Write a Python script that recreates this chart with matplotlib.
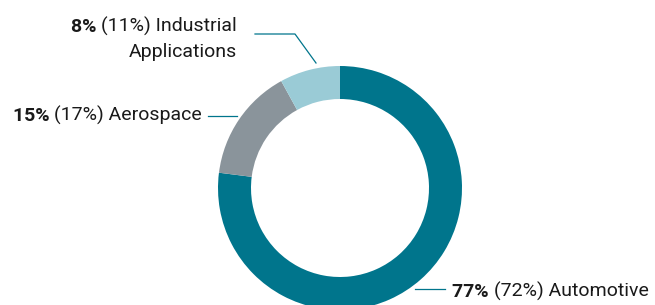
import matplotlib
matplotlib.use("Agg")
import matplotlib.pyplot as plt
import numpy as np

categories = ["Automotive", "Aerospace", "Industrial\nApplications"]
current = [77, 15, 8]
previous = [72, 17, 11]
colors = ["#00758C", "#8A949B", "#9ACBD6"]

plt.rcParams['font.family'] = ['Roboto', 'DejaVu Sans']

W, H = 655, 305
fig = plt.figure(figsize=(W / 100, H / 100), dpi=100)
ax = fig.add_axes([0, 0, 1, 1])
ax.set_xlim(0, W)
ax.set_ylim(0, H)
ax.set_aspect('equal')
ax.axis('off')

cx, cy, R, ring = 340, H - 188, 122, 33
ax.pie(current, colors=colors, startangle=90, counterclock=False,
       center=(cx, cy), radius=R, wedgeprops=dict(width=ring, linewidth=0),
       frame=True)
ax.set_xlim(0, W)
ax.set_ylim(0, H)
ax.axis('off')

fs = 14
tc = "#1a1a1a"
lc = "#00758C"
fig.canvas.draw()
renderer = fig.canvas.get_renderer()


def width_data(t):
    bb = t.get_window_extent(renderer=renderer)
    inv = ax.transData.inverted()
    p0 = inv.transform((bb.x0, bb.y0))
    p1 = inv.transform((bb.x1, bb.y1))
    return p1[0] - p0[0]


def label_right(x, y, bold, rest):
    t = ax.text(x, y, rest, ha='right', va='baseline', fontsize=fs, color=tc)
    w = width_data(t)
    ax.text(x - w, y, bold, ha='right', va='baseline', fontsize=fs,
            color=tc, fontweight='bold')


def label_left(x, y, bold, rest):
    t = ax.text(x, y, bold, ha='left', va='baseline', fontsize=fs, color=tc,
                fontweight='bold')
    w = width_data(t)
    ax.text(x + w, y, rest, ha='left', va='baseline', fontsize=fs, color=tc)


# Industrial Applications
cat = categories[2].split("\n")
label_right(237, H - 32, f"{current[2]}% ", f"({previous[2]}%) {cat[0]}")
ax.text(237, H - 57, cat[1], ha='right', va='baseline', fontsize=fs, color=tc)
ax.plot([255, 295, 316], [H - 34, H - 34, H - 63], color=lc, lw=0.9)

# Aerospace
label_right(202, H - 121, f"{current[1]}% ", f"({previous[1]}%) {categories[1]}")
ax.plot([208, 237], [H - 116, H - 116], color=lc, lw=0.9)

# Automotive
label_left(452, H - 297, f"{current[0]}% ", f"({previous[0]}%) {categories[0]}")
ax.plot([415, 445], [H - 289, H - 289], color=lc, lw=0.9)

fig.savefig("out.png", dpi=100)
